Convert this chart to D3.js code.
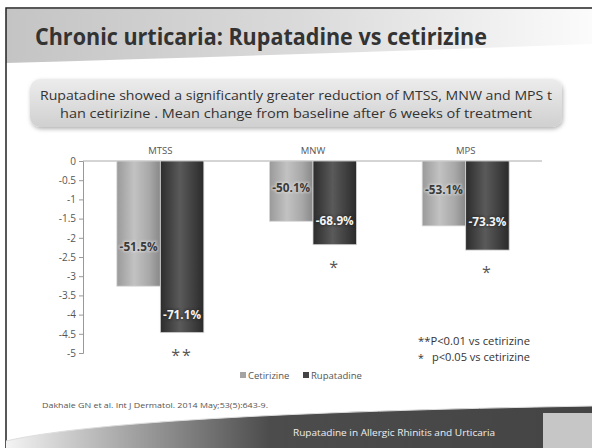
<!DOCTYPE html>
<html>
<head>
<meta charset="utf-8">
<script src="https://cdn.jsdelivr.net/npm/d3@7"></script>
<style>
  body { margin: 0; background: #fff; }
  svg { display: block; font-family: "Open Sans", sans-serif; }
</style>
</head>
<body>
<div id="vis"></div>
<script>
// Frame
const FRAME_WIDTH = 592;
const FRAME_HEIGHT = 448;

// Data
const categories = ["MTSS", "MNW", "MPS"];
const seriesNames = ["Cetirizine", "Rupatadine"];
const cetirizine = [-3.26, -1.57, -1.69];
const rupatadine = [-4.47, -2.18, -2.32];
const cetirizineLabels = ["-51.5%", "-50.1%", "-53.1%"];
const rupatadineLabels = ["-71.1%", "-68.9%", "-73.3%"];
const significance = ["**", "*", "*"];
const yTicks = [0, -0.5, -1, -1.5, -2, -2.5, -3, -3.5, -4, -4.5, -5];

const titleText = "Chronic urticaria: Rupatadine vs cetirizine";
const subtitleLines = [
  "Rupatadine showed a significantly greater reduction of MTSS, MNW and MPS t",
  "han cetirizine . Mean change from baseline after 6 weeks of treatment"
];
const citation = "Dakhale GN et al. Int J Dermatol. 2014 May;53(5):643-9.";
const footerText = "Rupatadine in Allergic Rhinitis and Urticaria";

const SVG = d3.select("#vis")
  .append("svg")
    .attr("width", FRAME_WIDTH)
    .attr("height", FRAME_HEIGHT);

const defs = SVG.append("defs");

function hGradient(id, stops, vertical) {
  const g = defs.append("linearGradient")
    .attr("id", id)
    .attr("x1", 0).attr("y1", 0)
    .attr("x2", vertical ? 0 : 1).attr("y2", vertical ? 1 : 0);
  stops.forEach(s => g.append("stop").attr("offset", s[0]).attr("stop-color", s[1]));
}

hGradient("headGrad", [[0, "#c4c4c4"], [0.5, "#dadada"], [1, "#fbfbfb"]]);
hGradient("boxGrad", [[0, "#ececec"], [1, "#d0d0d0"]], true);
hGradient("cetGrad", [[0, "#9a9a9a"], [0.4, "#c2c2c2"], [0.75, "#a8a8a8"], [1, "#888"]]);
hGradient("rupGrad", [[0, "#2c2c2c"], [0.45, "#5a5a5a"], [0.8, "#3c3c3c"], [1, "#2a2a2a"]]);
hGradient("footGrad", [[0, "#f4f4f4"], [0.2, "#a8a8a8"], [0.45, "#4c4c4c"], [1, "#444"]]);

const shadow = defs.append("filter").attr("id", "shadow")
  .attr("x", "-5%").attr("y", "-20%").attr("width", "110%").attr("height", "150%");
shadow.append("feDropShadow")
  .attr("dx", 1).attr("dy", 2).attr("stdDeviation", 2)
  .attr("flood-color", "#000").attr("flood-opacity", 0.3);

const glow = defs.append("filter").attr("id", "glow");
glow.append("feGaussianBlur").attr("stdDeviation", 0.8);

// header band
SVG.append("path")
  .attr("d", "M6,9 H592 V44 Q320,54 6,63 Z")
  .attr("fill", "url(#headGrad)");

// slide border
SVG.append("path")
  .attr("d", "M6,448 V8 H592")
  .attr("fill", "none")
  .attr("stroke", "#222")
  .attr("stroke-width", 1.5);

SVG.append("text")
  .attr("x", 35).attr("y", 45)
  .attr("font-size", 23).attr("font-weight", "bold")
  .attr("fill", "#333")
  .attr("textLength", 452).attr("lengthAdjust", "spacingAndGlyphs")
  .text(titleText);

// subtitle box
SVG.append("rect")
  .attr("x", 30).attr("y", 79).attr("width", 532).attr("height", 48)
  .attr("rx", 10)
  .attr("fill", "url(#boxGrad)")
  .attr("filter", "url(#shadow)");

const subLens = [512, 472];
SVG.selectAll(".sub")
  .data(subtitleLines)
  .enter()
  .append("text")
    .attr("x", 296)
    .attr("y", (d, i) => 100 + i * 18)
    .attr("text-anchor", "middle")
    .attr("font-size", 12.5)
    .attr("fill", "#333")
    .attr("textLength", (d, i) => subLens[i])
    .attr("lengthAdjust", "spacingAndGlyphs")
    .text(d => d);

// scales
const X_SCALE = d3.scaleBand()
  .domain(categories)
  .range([84, 542]);

const X_SUB = d3.scaleBand()
  .domain(seriesNames)
  .range([0, 87]);

const Y_SCALE = d3.scaleLinear()
  .domain([-5, 0])
  .range([353, 161]);

// y axis
const yAxis = SVG.append("g")
  .attr("transform", "translate(83,0)")
  .call(d3.axisLeft(Y_SCALE).tickValues(yTicks).tickSize(4).tickFormat(d => String(d)));
yAxis.select(".domain").attr("stroke", "#999");
yAxis.selectAll(".tick line").attr("stroke", "#999");
yAxis.selectAll(".tick text")
  .attr("fill", "#555")
  .attr("font-size", 10)
  .attr("font-family", "Open Sans, sans-serif");

// x axis line at zero
SVG.append("line")
  .attr("x1", 83).attr("x2", 542)
  .attr("y1", Y_SCALE(0)).attr("y2", Y_SCALE(0))
  .attr("stroke", "#aaa");

// category labels above the zero line
SVG.selectAll(".cat")
  .data(categories)
  .enter()
  .append("text")
    .attr("x", d => X_SCALE(d) + X_SCALE.bandwidth() / 2)
    .attr("y", 154)
    .attr("text-anchor", "middle")
    .attr("font-size", 9.5)
    .attr("fill", "#555")
    .text(d => d);

const rows = categories.map((c, i) => ({
  cat: c,
  bars: [
    {name: "Cetirizine", value: cetirizine[i], label: cetirizineLabels[i]},
    {name: "Rupatadine", value: rupatadine[i], label: rupatadineLabels[i]}
  ],
  sig: significance[i]
}));

const groupOffset = (X_SCALE.bandwidth() - X_SUB.range()[1]) / 2;

const groups = SVG.selectAll(".grp")
  .data(rows)
  .enter()
  .append("g")
    .attr("transform", d => "translate(" + (X_SCALE(d.cat) + groupOffset) + ",0)");

groups.selectAll("rect")
  .data(d => d.bars)
  .enter()
  .append("rect")
    .attr("x", d => X_SUB(d.name))
    .attr("y", Y_SCALE(0))
    .attr("width", X_SUB.bandwidth())
    .attr("height", d => Y_SCALE(d.value) - Y_SCALE(0))
    .attr("fill", d => d.name === "Cetirizine" ? "url(#cetGrad)" : "url(#rupGrad)")
    .attr("stroke", "#d8d8d8")
    .attr("stroke-width", 0.8);

// where each percentage label sits inside its bar (share of bar depth)
const labelDepth = {Cetirizine: [0.69, 0.45, 0.45], Rupatadine: [0.9, 0.72, 0.69]};

groups.each(function(row, gi) {
  const g = d3.select(this);
  row.bars.forEach(b => {
    const x = X_SUB(b.name) + X_SUB.bandwidth() / 2;
    const y = Y_SCALE(b.value * labelDepth[b.name][gi]) + 4;
    const dark = b.name === "Cetirizine";
    g.append("text")
      .attr("x", x).attr("y", y)
      .attr("text-anchor", "middle")
      .attr("font-size", 11.5).attr("font-weight", "bold")
      .attr("fill", "none")
      .attr("stroke", dark ? "#eee" : "#222")
      .attr("stroke-width", 2)
      .attr("opacity", 0.5)
      .attr("filter", "url(#glow)")
      .attr("textLength", 38).attr("lengthAdjust", "spacingAndGlyphs")
      .text(b.label);
    g.append("text")
      .attr("x", x).attr("y", y)
      .attr("text-anchor", "middle")
      .attr("font-size", 11.5).attr("font-weight", "bold")
      .attr("fill", dark ? "#3a3a3a" : "#f4f4f4")
      .attr("textLength", 38).attr("lengthAdjust", "spacingAndGlyphs")
      .text(b.label);
  });
  // significance stars under the rupatadine bar
  const rup = row.bars[1];
  g.append("text")
    .attr("x", X_SUB("Rupatadine") + X_SUB.bandwidth() / 2)
    .attr("y", Y_SCALE(rup.value) + 28)
    .attr("text-anchor", "middle")
    .attr("font-size", 16)
    .attr("letter-spacing", 2)
    .attr("fill", "#555")
    .text(row.sig);
});

// notes
SVG.append("text")
  .attr("x", 418).attr("y", 345)
  .attr("font-size", 10.5).attr("fill", "#333")
  .attr("textLength", 112).attr("lengthAdjust", "spacingAndGlyphs")
  .text("**P<0.01 vs cetirizine");
SVG.append("text")
  .attr("x", 418).attr("y", 362)
  .attr("font-size", 10.5).attr("fill", "#333")
  .text("*");
SVG.append("text")
  .attr("x", 432).attr("y", 361)
  .attr("font-size", 10.5).attr("fill", "#333")
  .attr("textLength", 98).attr("lengthAdjust", "spacingAndGlyphs")
  .text("p<0.05 vs cetirizine");

// legend
const LEG_X = [240, 303];
const legend = SVG.selectAll(".leg")
  .data(seriesNames)
  .enter()
  .append("g")
    .attr("transform", (d, i) => "translate(" + LEG_X[i] + ",375)");
legend.append("rect")
  .attr("x", 0).attr("y", -3).attr("width", 6).attr("height", 6)
  .attr("fill", (d, i) => i === 0 ? "#a4a4a4" : "#444");
legend.append("text")
  .attr("x", 8).attr("y", 3.5)
  .attr("font-size", 9.5).attr("fill", "#555")
  .text(d => d);

// citation
SVG.append("text")
  .attr("x", 42).attr("y", 408)
  .attr("font-size", 7).attr("fill", "#555")
  .attr("textLength", 226).attr("lengthAdjust", "spacingAndGlyphs")
  .text(citation);

// footer band
SVG.append("path")
  .attr("d", "M6,441 Q120,414 592,406 V448 H6 Z")
  .attr("fill", "url(#footGrad)");
SVG.append("path")
  .attr("d", "M6,441 Q120,414 592,406")
  .attr("fill", "none")
  .attr("stroke", "#ddd")
  .attr("stroke-width", 1);
SVG.append("rect")
  .attr("x", 543).attr("y", 413).attr("width", 49).attr("height", 35)
  .attr("fill", "#c6c6c6");
SVG.append("text")
  .attr("x", 293).attr("y", 436)
  .attr("font-size", 8.5).attr("fill", "#eee")
  .attr("textLength", 202).attr("lengthAdjust", "spacingAndGlyphs")
  .text(footerText);
</script>
</body>
</html>
